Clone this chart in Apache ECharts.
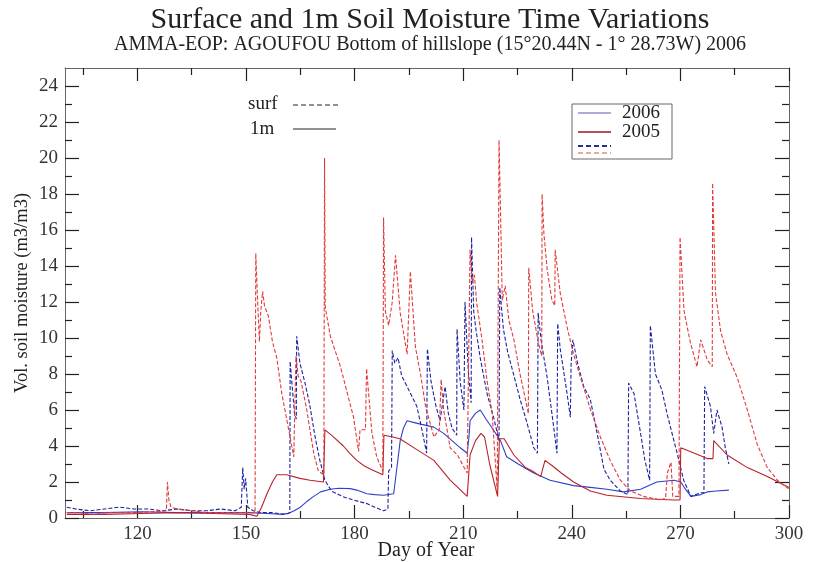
<!DOCTYPE html>
<html><head><meta charset="utf-8">
<script src="https://cdn.jsdelivr.net/npm/echarts@6/dist/echarts.min.js"></script>
<style>html,body{margin:0;padding:0;background:#fff}#c{width:814px;height:562px}</style>
</head><body><div id="c"></div>
<script>
// ---- axis tick / label values ----
const xLabelDays = [120,150,180,210,240,270,300];
const xMinorDays = [105,135,165,195,225,255,285];
const yLabelVals = [0,2,4,6,8,10,12,14,16,18,20,22,24];
const yMinorVals = [1,3,5,7,9,11,13,15,17,19,21,23];

// ---- series: [day of year, vol. soil moisture] ----
const surf2006 = [[100.5,0.6],[103,0.5],[107,0.4],[111,0.5],[115,0.6],[119,0.5],[123,0.5],[127,0.4],[131,0.5],[135,0.4],[139,0.4],[143,0.5],[147,0.4],[148.7,0.6],[149.1,2.8],[149.5,1.6],[149.9,2.2],[150.5,0.6],[152,0.4],[154,0.3],[157,0.3],[161,0.2],[162.1,0.3],[162.2,8.7],[162.8,7.2],[163.4,5.8],[163.9,5.5],[164.0,10.1],[164.9,8.6],[166.3,7.5],[167.6,6.3],[169,4.6],[170.4,3.2],[171.8,2.1],[173.6,1.5],[176.6,1.2],[179.6,1.0],[183.4,0.8],[185.6,0.6],[188,0.4],[189.2,0.5],[189.4,2.6],[190.2,2.8],[190.4,9.3],[191.1,8.6],[192,8.9],[193,7.9],[194.5,7.3],[197.2,6.2],[198.5,5.0],[199.9,3.6],[200.1,9.4],[201.1,7.6],[202.5,6.2],[203.6,5.4],[205,7.3],[205.9,5.8],[206.9,5.0],[208.2,4.6],[208.3,10.5],[209.2,7.5],[210.2,6.0],[210.5,12.0],[211.4,8.2],[212.2,6.4],[212.3,15.6],[212.9,11.5],[213.5,10.5],[214.7,8.9],[216.6,6.9],[218.4,5.6],[219.9,4.3],[220.1,12.8],[221.1,10.5],[222.3,9.2],[223.9,8.0],[225.7,6.6],[227.6,5.3],[229.5,3.9],[230.5,3.6],[230.7,11.4],[231.5,9.9],[233.2,7.8],[235,5.05],[235.9,3.6],[236.1,10.8],[236.8,9.4],[238.7,6.9],[239.6,5.6],[239.8,8.5],[240.3,9.9],[241.6,8.6],[243.3,7.3],[245.1,6.6],[247,4.7],[248.9,2.7],[250.6,2.1],[253.4,1.5],[255.5,1.3],[255.7,7.5],[257.2,6.9],[259,4.7],[260.2,3.2],[261.5,2.1],[261.7,10.7],[263.1,8.0],[264.9,7.1],[266.3,5.8],[268.2,4.3],[269.1,3.6],[270.9,2.1],[272.9,1.2],[275.6,1.4],[276.5,1.4],[276.7,7.3],[278.3,6.2],[279.2,4.7],[280.1,6.0],[281.5,5.05],[282.4,3.9],[283.4,3.0]];

const m1_2006 = [[100.5,0.3],[111,0.3],[121,0.35],[131,0.3],[141,0.3],[151,0.3],[156,0.25],[160,0.2],[161.8,0.26],[163.3,0.4],[165,0.6],[166.7,0.9],[168.7,1.2],[170.6,1.45],[173.2,1.6],[175.6,1.65],[178.8,1.63],[180.6,1.55],[183.4,1.35],[185.6,1.3],[188,1.26],[190.8,1.35],[191.5,2.5],[192.6,4.3],[193.5,5.0],[194.5,5.4],[196.5,5.3],[198.5,5.2],[201.9,5.05],[204.6,4.7],[206.9,4.3],[209.2,3.9],[211.1,3.6],[211.6,4.5],[211.9,5.4],[213.3,5.8],[214.7,6.0],[216.3,5.5],[218.3,4.9],[220.3,4.3],[222,3.4],[225.2,3.0],[229.5,2.5],[234,2.1],[240.5,1.8],[245.1,1.7],[249.7,1.6],[254.3,1.45],[259,1.6],[263.5,2.0],[268.2,2.1],[270.1,2.0],[271.4,1.6],[272.9,1.2],[275.6,1.3],[277.4,1.45],[279.8,1.5],[283.4,1.55]];

const surf2005 = [[100.5,0.3],[104,0.3],[108,0.2],[112,0.3],[116,0.3],[120,0.3],[124,0.35],[128,0.4],[128.3,2.0],[128.7,1.0],[129.3,0.6],[131,0.5],[135,0.4],[139,0.3],[143,0.3],[147,0.3],[151,0.3],[152.5,0.3],[152.7,14.7],[153.1,12.6],[153.7,9.8],[154.1,11.5],[154.6,12.6],[155.1,11.8],[156.2,11.2],[157.3,9.8],[158.5,8.9],[159.9,6.9],[161.8,4.9],[163.2,3.4],[163.6,3.3],[163.8,9.0],[164.4,7.9],[165.2,7.6],[166.8,6.0],[168.7,3.6],[170,2.6],[171.5,2.4],[171.7,20.0],[171.9,11.7],[173.3,10.1],[176.1,8.4],[177.9,7.0],[179.7,5.6],[181.1,3.7],[181.5,4.9],[183,4.9],[183.3,8.3],[184.8,4.7],[186.1,3.4],[187.8,2.6],[188,16.7],[188.5,11.5],[189.4,10.7],[190.4,12.0],[191.3,14.6],[192.6,11.4],[194.5,9.1],[195.4,13.7],[196.8,9.5],[198.2,8.0],[199.6,6.2],[201.9,4.5],[203.4,4.9],[203.9,7.7],[204.6,6.0],[206.4,3.9],[208.4,3.5],[211.1,2.5],[211.9,14.9],[212.5,13.1],[213.1,13.5],[213.7,12.0],[215.2,9.9],[216.6,7.6],[218,5.8],[219.4,1.5],[219.9,21.0],[220.8,12.1],[221.6,12.9],[222.6,11.0],[224,9.9],[225.7,8.0],[227.6,6.2],[228,5.8],[228.1,13.9],[229.2,11.5],[230.7,9.8],[231.7,9.0],[231.8,18.0],[232.3,15.8],[233.2,13.8],[234.5,12.1],[235.3,11.8],[235.4,14.9],[236.8,12.5],[238.7,10.6],[240.5,9.1],[242.4,7.8],[245.2,6.0],[247.9,4.5],[250.6,3.2],[253.4,2.1],[256.2,1.5],[259.8,1.2],[264.4,1.0],[265.9,1.1],[266.4,2.5],[267.4,3.1],[267.9,1.2],[269.6,1.2],[269.9,15.6],[271,11.5],[272.8,9.7],[274.6,8.4],[275.6,9.9],[277.4,8.8],[278.8,8.4],[278.9,18.6],[279.7,12.5],[281.1,10.4],[282.9,9.1],[285.7,7.8],[288.5,6.0],[291.2,4.1],[294,2.8],[296.8,2.1],[300,1.6]];

const m1_2005 = [[100.5,0.2],[111,0.2],[121,0.25],[131,0.3],[141,0.25],[151,0.2],[153,0.1],[154.3,0.6],[155.8,1.35],[157.3,2.0],[158.5,2.4],[161.2,2.4],[164.9,2.2],[167.7,2.1],[171.4,2.0],[171.8,4.9],[173.6,4.6],[176.9,4.0],[178.6,3.6],[180.6,3.2],[182.6,2.9],[184.6,2.7],[187.8,2.4],[188.1,4.6],[190.6,4.5],[192.5,4.4],[197.2,3.8],[201.9,3.2],[206.4,2.1],[211.1,1.2],[211.9,3.5],[213.4,4.3],[214.9,4.7],[215.9,4.5],[217.3,3.0],[219.5,1.2],[220,4.4],[221.3,4.4],[224,3.5],[227.2,2.8],[229.2,2.6],[231.4,2.3],[232.6,3.2],[234.6,2.9],[237.1,2.5],[240.5,2.0],[245.1,1.5],[249.7,1.26],[259,1.08],[268.2,1.0],[269.9,1.0],[270.1,3.9],[273.9,3.6],[277.4,3.3],[279,3.3],[279.2,4.3],[282.9,3.5],[288.5,2.8],[294,2.3],[300,1.7]];

const FONT = '"Liberation Serif", "Times New Roman", serif';
const FRAME = '#666';
const TICK = '#222';

function xAx(pos, ticks, len, showLine, labels) {
  return {
    type: 'value', position: pos, min: 100, max: 300,
    axisLine: { show: showLine, onZero: false, lineStyle: { color: FRAME, width: 1 } },
    axisTick: { show: true, inside: true, length: len, customValues: ticks, lineStyle: { color: TICK, width: 1.2 } },
    axisLabel: labels ? { customValues: labels, margin: 7, fontFamily: FONT, fontSize: 19, color: '#333' } : { show: false },
    splitLine: { show: false }
  };
}
function yAx(pos, ticks, len, showLine, labels) {
  return {
    type: 'value', position: pos, min: 0, max: 25,
    axisLine: { show: showLine, onZero: false, lineStyle: { color: FRAME, width: 1 } },
    axisTick: { show: true, inside: true, length: len, customValues: ticks, lineStyle: { color: TICK, width: 1.2 } },
    axisLabel: labels ? { customValues: labels, margin: 7, fontFamily: FONT, fontSize: 19, color: '#333' } : { show: false },
    splitLine: { show: false }
  };
}

function txt(x, y, s, size, extra) {
  return Object.assign({ type: 'text', x: x, y: y, silent: true,
    style: { text: s, fontFamily: FONT, fontSize: size, fill: '#222', align: 'left', verticalAlign: 'middle' } }, extra || {});
}
function seg(x1, y1, x2, y2, color, w, dash) {
  return { type: 'line', silent: true, shape: { x1: x1, y1: y1, x2: x2, y2: y2 },
    style: { stroke: color, lineWidth: w, lineDash: dash || null } };
}

const chart = echarts.init(document.getElementById('c'), null, { renderer: 'canvas' });
chart.setOption({
  animation: false,
  backgroundColor: '#fff',
  grid: { left: 65, right: 25, top: 68, bottom: 44 },
  xAxis: [
    xAx('bottom', xLabelDays, 13, true, xLabelDays),
    xAx('bottom', xMinorDays, 7, false, null),
    xAx('top', xLabelDays, 13, true, null),
    xAx('top', xMinorDays, 7, false, null)
  ],
  yAxis: [
    yAx('left', yLabelVals, 14, true, yLabelVals),
    yAx('left', yMinorVals, 7, false, null),
    yAx('right', yLabelVals, 14, true, null),
    yAx('right', yMinorVals, 7, false, null)
  ],
  series: [
    { type: 'line', name: '1m 2006', data: m1_2006, showSymbol: false, lineStyle: { color: '#3040c8', width: 1.1 } },
    { type: 'line', name: 'surf 2006', data: surf2006, showSymbol: false, lineStyle: { color: '#1c22a0', width: 1.1, type: [4, 2] } },
    { type: 'line', name: '1m 2005', data: m1_2005, showSymbol: false, lineStyle: { color: '#b8222a', width: 1.1 } },
    { type: 'line', name: 'surf 2005', data: surf2005, showSymbol: false, lineStyle: { color: '#e23a3a', width: 1.1, type: [4, 2] } }
  ],
  graphic: [
    txt(430, 20, 'Surface and 1m Soil Moisture Time Variations', 30, { style: { text: 'Surface and 1m Soil Moisture Time Variations', fontFamily: FONT, fontSize: 30, fill: '#222', align: 'center', verticalAlign: 'middle' } }),
    txt(430, 45, 'AMMA-EOP: AGOUFOU Bottom of hillslope (15°20.44N - 1° 28.73W) 2006', 20, { style: { text: 'AMMA-EOP: AGOUFOU Bottom of hillslope (15°20.44N - 1° 28.73W) 2006', fontFamily: FONT, fontSize: 20, fill: '#222', align: 'center', verticalAlign: 'middle' } }),
    txt(22, 293, 'Vol. soil moisture (m3/m3)', 18.5, { rotation: Math.PI / 2, style: { text: 'Vol. soil moisture (m3/m3)', fontFamily: FONT, fontSize: 18.5, fill: '#222', align: 'center', verticalAlign: 'middle' } }),
    txt(426, 551, 'Day of Year', 20, { style: { text: 'Day of Year', fontFamily: FONT, fontSize: 20, fill: '#222', align: 'center', verticalAlign: 'middle' } }),
    // line-style legend
    txt(248, 104, 'surf', 19),
    seg(293, 105, 338, 105, '#222', 1, [5, 3]),
    txt(250, 129, '1m', 19),
    seg(293, 129, 336, 129, '#222', 1),
    // year legend
    { type: 'rect', silent: true, shape: { x: 572, y: 104, width: 100, height: 55 }, style: { fill: 'none', stroke: '#666', lineWidth: 1 } },
    seg(578, 113, 611, 113, '#5a5ab4', 1.2),
    txt(622, 113, '2006', 19),
    seg(578, 132, 611, 132, '#a0141e', 1.5),
    txt(622, 132, '2005', 19),
    seg(578, 146, 611, 146, '#2a2a90', 2, [5, 3]),
    seg(578, 153, 611, 153, '#e0907a', 1.5, [5, 3])
  ]
});
</script></body></html>
